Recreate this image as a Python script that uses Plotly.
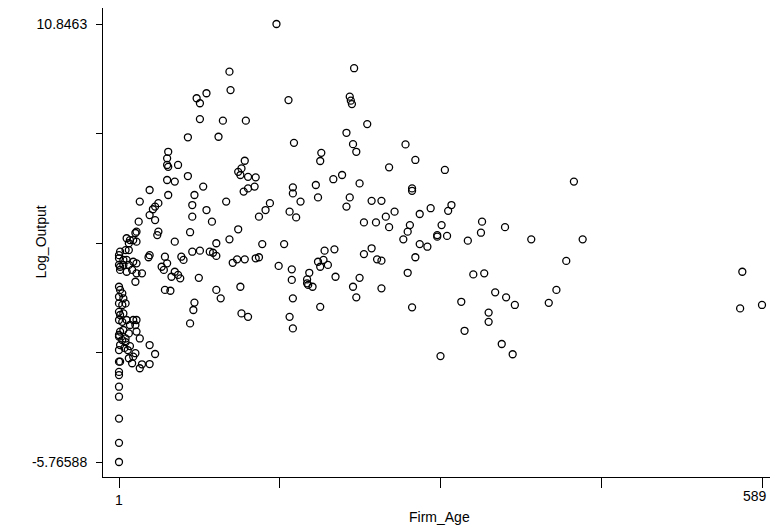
import numpy as np
import plotly.graph_objects as go

# Firm age (years) and log output
firm_age = [
    1, 1, 1, 1, 1, 1, 1, 1, 2, 29, 34, 29, 20, 22, 13, 14, 16, 10,
    1, 4, 7, 2, 6, 1, 11, 9,
    1, 2, 7, 10, 1, 5, 8, 1, 2, 5, 10, 14, 17, 2, 8, 13, 17, 22, 16,
    29, 28, 43, 45, 40, 42, 43, 48,
    1, 2, 4, 1, 5, 1, 4, 7, 1, 2, 5, 1, 4, 8, 14, 17, 16, 11, 5, 2, 10, 17, 1, 7, 20,
    46, 45, 45, 46, 55, 45, 52, 29, 46, 20, 37, 34, 32, 29, 34, 19, 17, 37, 36,
    8, 11, 14, 17, 10, 52, 16,
    102, 103, 81, 72, 75, 75, 96, 117, 64, 92, 64, 78, 116, 113, 110, 112, 119, 126, 125, 119,
    70, 115, 68, 99, 81, 68, 139, 135, 129, 86, 110, 66, 102, 90, 132, 68, 75, 84, 87, 90,
    58, 60, 109, 105, 116, 126, 129, 147, 52, 55, 57, 49, 74, 112, 90, 94, 70, 69, 113, 119, 66,
    145, 216, 156, 212, 213, 214, 228, 209, 161, 215, 218, 186, 185, 248, 205, 197,
    221, 181, 160, 160, 167, 183, 212, 209, 232, 241, 157, 163, 225, 236, 245, 253, 248,
    152, 189, 198, 225, 232, 237, 241, 159, 159, 183, 188, 185, 192, 175, 173, 173, 174, 178,
    199, 221, 215, 218, 241, 160, 185, 157, 160,
    263, 272, 299, 269, 269, 276, 286, 305, 302, 333, 332, 354, 267, 265, 261, 296, 292, 292,
    301, 320, 276, 283,
    272, 265, 325, 335, 345, 355, 363, 314, 269, 339, 339, 317, 351, 361, 295,
    417, 378, 425, 410, 401, 394, 571, 569, 589,
]
log_output = [
    -5.76588, -5.04, -4.12, -3.29, -2.91, -2.47, -2.35, -1.96, -1.96, -1.33, -1.67, -2.05, -2.21, -2.06, -2.02, -1.77, -1.64, -1.83,
    -0.95, -1.14, -1.22, -1.33, -1.44, -1.52, -1.37, -1.52,
    2.08, 2.21, 2.27, 2.27, 1.96, 1.90, 1.90, 1.71, 1.64, 1.71, 1.71, 1.83, 1.77, 1.52, 1.45, 1.52, 1.39, 1.39, 1.07,
    2.08, 2.00, 2.02, 1.77, 1.64, 1.52, 0.76, 0.73,
    0.88, 0.76, 0.63, 0.50, 0.44, 0.25, 0.19, 0.25, -0.07, -0.19, -0.13, -0.38, -0.45, -0.38, -0.38, -0.38, -0.57, -0.57, -0.76, -0.82, -0.89, -0.82, -1.01, -1.08, -1.08,
    6.00, 5.75, 5.50, 5.43, 5.50, 4.93, 4.87, 4.55, 4.36, 4.11, 4.05, 3.92, 3.82, 3.60, 3.41, 3.35, 2.97, 2.97, 2.84,
    2.72, 2.65, 2.65, 2.59, 2.53, 2.59, 2.92,
    9.04, 8.34, 8.22, 8.03, 7.84, 7.24, 7.18, 7.18, 6.55, 6.57, 5.08, 4.68, 5.66, 5.37, 5.24, 5.12, 5.05, 5.03, 4.68, 4.61,
    4.36, 4.49, 3.98, 4.11, 3.79, 3.54, 4.05, 3.79, 3.54, 3.35, 3.06, 2.95, 2.68, 2.53, 2.50, 2.21, 2.25, 2.21, 2.17, 2.05,
    2.02, 1.90, 1.92, 1.79, 1.92, 1.96, 2.00, 1.67, 1.45, 1.33, 1.20, 1.26, 1.22, 0.88, 0.76, 0.44, 0.28, 0.00, -0.13, -0.26, -0.51,
    10.8463, 9.17, 7.96, 8.09, 7.94, 7.81, 7.05, 6.72, 6.34, 6.29, 6.00, 5.96, 5.65, 5.41, 5.12, 4.96,
    4.80, 4.74, 4.65, 4.42, 4.11, 4.27, 4.27, 3.92, 4.14, 4.14, 3.73, 3.51, 3.32, 3.32, 3.54, 3.73, 3.14,
    2.50, 2.25, 2.30, 2.12, 2.34, 1.92, 1.87, 1.54, 1.14, 1.83, 1.90, 1.64, 1.71, 1.41, 1.16, 1.01, 0.95, 0.88,
    1.26, 1.22, 0.88, 0.48, 0.82, 0.44, 0.12, -0.26, -0.70,
    6.28, 5.69, 5.31, 4.61, 4.52, 3.64, 3.86, 3.98, 3.76, 3.35, 2.93, 3.14, 3.22, 2.97, 2.68, 3.22, 2.84, 2.78,
    2.81, 2.63, 2.50, 2.40,
    2.00, 1.41, 1.35, 1.39, 0.67, 0.48, 0.19, 0.31, 0.10, -0.10, -0.45, -0.79, -1.29, -1.68, -1.75,
    4.87, 2.68, 2.68, 1.86, 0.76, 0.27, 1.45, 0.06, 0.19,
]

x_min, x_max = 1, 589
y_min, y_max = -5.76588, 10.8463
x_tick_text = ["1", "", "", "", ""]          # the max label is drawn as an annotation below
x_max_label = "589"
y_tick_text = ["-5.76588", "", "", "", "10.8463"]
x_title = "Firm_Age"
y_title = "Log_Output"

x_ticks = list(np.linspace(x_min, x_max, 5))
y_ticks = list(np.linspace(y_min, y_max, 5))

fig = go.Figure()
fig.add_trace(go.Scatter(
    x=firm_age, y=log_output, mode="markers",
    marker=dict(symbol="circle-open", size=7, color="black",
                line=dict(color="black", width=1.3)),
    showlegend=False, hoverinfo="x+y",
))

font_family = "Liberation Sans, Arial, sans-serif"
x_pad = (x_max - x_min) * 16 / 643
y_pad_lo = (y_max - y_min) * 15 / 438
y_pad_hi = (y_max - y_min) * 16 / 438

fig.update_layout(
    width=770, height=521,
    margin=dict(l=95, r=3, t=0, b=52),
    paper_bgcolor="white", plot_bgcolor="white",
    font=dict(family=font_family, size=14, color="black"),
    xaxis=dict(
        range=[x_min - x_pad, x_max + x_pad * 13 / 16],
        tickmode="array", tickvals=x_ticks, ticktext=x_tick_text,
        ticks="outside", ticklen=10, tickwidth=1, tickcolor="black",
        showline=True, linecolor="black", linewidth=1,
        showgrid=False, zeroline=False,
        tickfont=dict(size=14),
    ),
    yaxis=dict(
        range=[y_min - y_pad_lo, y_max + y_pad_hi],
        tickmode="array", tickvals=y_ticks, ticktext=y_tick_text,
        ticks="outside", ticklen=6, tickwidth=1, tickcolor="black",
        showline=True, linecolor="black", linewidth=1,
        showgrid=False, zeroline=False,
        tickfont=dict(size=14),
        ticklabelstandoff=6,
    ),
    annotations=[
        dict(text=x_max_label, xref="x", yref="paper", x=x_max, y=0,
             xanchor="right", yanchor="middle", xshift=7, yshift=-19,
             showarrow=False, font=dict(size=14)),
        dict(text=x_title, xref="paper", yref="paper", x=0.5, y=0,
             xanchor="center", yanchor="middle", yshift=-40,
             showarrow=False, font=dict(size=14)),
        dict(text=y_title, xref="paper", yref="paper", x=0, y=0.5,
             xanchor="center", yanchor="middle", xshift=-63, textangle=-90,
             showarrow=False, font=dict(size=14)),
    ],
)

fig.write_html("out.html")
